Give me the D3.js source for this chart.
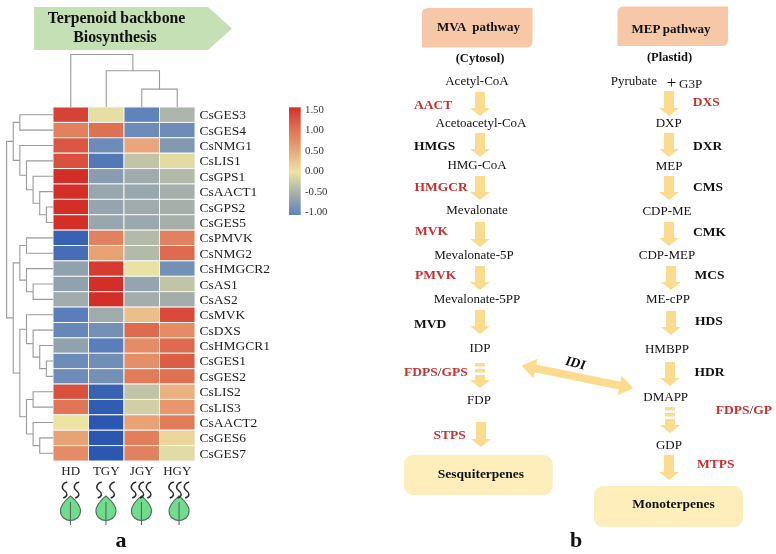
<!DOCTYPE html>
<html><head><meta charset="utf-8">
<script src="https://cdnjs.cloudflare.com/ajax/libs/d3/7.8.5/d3.min.js"></script>
<style>html,body{margin:0;padding:0;background:#fff}svg{display:block;filter:blur(0.4px)}text{font-family:"Liberation Serif",serif}</style>
</head><body><svg id="c" width="776" height="554"></svg>
<script>
const samples=["HD","TGY","JGY","HGY"];
const aroma=[2,2,3,3];
const genes=["CsGES3","CsGES4","CsNMG1","CsLIS1","CsGPS1","CsAACT1","CsGPS2","CsGES5","CsPMVK","CsNMG2","CsHMGCR2","CsAS1","CsAS2","CsMVK","CsDXS","CsHMGCR1","CsGES1","CsGES2","CsLIS2","CsLIS3","CsAACT2","CsGES6","CsGES7"];
const hdValues=[1.35,0.85,1.2,1.25,1.5,1.5,1.5,1.5,-1.3,-1.2,-0.65,-0.65,-0.55,-1.05,-0.95,-0.65,-0.9,-0.9,1.25,0.95,0.02,0.55,0.75];
const tgyValues=[-0.05,1.0,-0.9,-1.1,-0.7,-0.6,-0.62,-0.6,0.85,0.55,1.4,1.5,1.5,-0.55,-0.85,-1.05,-0.88,-0.85,-1.3,-1.35,-1.4,-1.4,-1.4];
const jgyValues=[-1.0,-0.9,0.5,-0.3,-0.55,-0.6,-0.55,-0.58,-0.4,-0.4,-0.02,-0.62,-0.52,0.3,1.05,0.75,0.72,0.9,-0.3,-0.2,0.55,0.88,0.85];
const hgyValues=[-0.45,-0.9,-0.75,-0.08,-0.4,-0.5,-0.5,-0.5,0.85,1.05,-0.85,-0.3,-0.52,1.3,0.75,1.05,1.15,1.0,0.4,0.65,0.9,0.12,-0.08];
const colorDomain=[-1.4,-1,-0.5,0,0.5,1,1.5];
const colorRange=["#2c57b1","#5f83ba","#a6afaa","#ece4a4","#eaa67a","#df7153","#d42e29"];
const legendTicks=[-1,-0.5,0,0.5,1,1.5];
// merge trees: [height, left, right]
const colTree=[1,"HD",[0.69,"TGY",[0.34,"JGY","HGY"]]];
const rowTree=[7,
 [6,[5,"CsGES3","CsGES4"],[5,"CsNMG1",[4,"CsLIS1",[3,"CsGPS1",[2,"CsAACT1",[1,"CsGPS2","CsGES5"]]]]]],
 [6,[5,[4,"CsPMVK","CsNMG2"],[4,"CsHMGCR2",[3,"CsAS1","CsAS2"]]],
    [5,[4,"CsMVK",[3,"CsDXS",[2,"CsHMGCR1",[1,"CsGES1","CsGES2"]]]],
       [4,[3,"CsLIS2","CsLIS3"],[3,"CsAACT2",[2,"CsGES6","CsGES7"]]]]]];
const mvaMetabolites=["Acetyl-CoA","Acetoacetyl-CoA","HMG-CoA","Mevalonate","Mevalonate-5P","Mevalonate-5PP","IDP","FDP"];
const mepMetabolites=["DXP","MEP","CDP-ME","CDP-MEP","ME-cPP","HMBPP","DMAPP","GDP"];
const mvaEnzymes=["AACT","HMGS","HMGCR","MVK","PMVK","MVD","FDPS/GPS","STPS"];
const mepEnzymes=["DXS","DXR","CMS","CMK","MCS","HDS","HDR","FDPS/GP","MTPS"];
const upregulated=new Set(["AACT","HMGCR","MVK","PMVK","FDPS","GPS","GP","STPS","DXS","MTPS"]);

const svg=d3.select("#c");
const RED="#c8302f",ARROW="#fbdc8e",INK="#111";

// ---------- panel a ----------
svg.append("path").attr("d","M34,7H208L232,28.5L208,50H34Z").attr("fill","#c5e0b4");
const title=svg.append("g").attr("font-weight","bold").attr("font-size",15.8).attr("text-anchor","middle").attr("fill",INK);
title.append("text").attr("x",116.5).attr("y",23).text("Terpenoid backbone");
title.append("text").attr("x",115).attr("y",41.5).text("Biosynthesis");

const x=d3.scaleBand().domain(samples).range([53,195]);
const y=d3.scaleBand().domain(genes).range([107,461]);
const color=d3.scaleLinear().domain(colorDomain).range(colorRange).clamp(true);
const matrix=[hdValues,tgyValues,jgyValues,hgyValues];
samples.forEach((s,i)=>{
  svg.append("g").selectAll("rect").data(genes).join("rect")
   .attr("x",x(s)).attr("y",g=>y(g)).attr("width",x.bandwidth()).attr("height",y.bandwidth())
   .attr("fill",(g,j)=>color(matrix[i][j])).attr("stroke","#f4f6f4").attr("stroke-width",1);
});
svg.append("g").selectAll("text").data(genes).join("text")
  .attr("x",199.5).attr("y",g=>y(g)+y.bandwidth()/2+4.5).attr("font-size",13.5).attr("fill","#222").text(g=>g);
svg.append("g").selectAll("text").data(samples).join("text")
  .attr("x",s=>x(s)+x.bandwidth()/2).attr("y",474.5).attr("text-anchor","middle").attr("font-size",13).attr("fill","#222").text(s=>s);

// dendrograms
const colH=d3.scaleLinear().domain([0,1]).range([107,54.5]);
const rowH=d3.scaleLinear().domain([0,7]).range([53,6.6]);
const dendro=svg.append("g").attr("fill","none").attr("stroke","#9a9a9a").attr("stroke-width",1.1);
function walk(n,pos,hs,horizontal,p){
  if(typeof n==="string") return [pos(n),hs(0)];
  const a=walk(n[1],pos,hs,horizontal,p),b=walk(n[2],pos,hs,horizontal,p),h=hs(n[0]);
  if(horizontal){p.moveTo(a[1],a[0]);p.lineTo(h,a[0]);p.lineTo(h,b[0]);p.lineTo(b[1],b[0]);}
  else{p.moveTo(a[0],a[1]);p.lineTo(a[0],h);p.lineTo(b[0],h);p.lineTo(b[0],b[1]);}
  return [(a[0]+b[0])/2,h];
}
const pc=d3.path();walk(colTree,s=>x(s)+x.bandwidth()/2,colH,false,pc);dendro.append("path").attr("d",pc.toString());
const pr=d3.path();walk(rowTree,g=>y(g)+y.bandwidth()/2,rowH,true,pr);dendro.append("path").attr("d",pr.toString());

// colour legend
const lg=svg.append("defs").append("linearGradient").attr("id","lg").attr("x1",0).attr("y1",1).attr("x2",0).attr("y2",0);
d3.range(0,1.001,0.1).forEach(t=>lg.append("stop").attr("offset",t).attr("stop-color",color(-1+2.5*t)));
svg.append("rect").attr("x",289).attr("y",107.3).attr("width",11.7).attr("height",107.7).attr("fill","url(#lg)");
const tickY=d3.scaleLinear().domain([-1,1.5]).range([211.5,109]);
svg.append("g").attr("transform","translate(301,0)")
  .call(d3.axisRight(tickY).tickValues(legendTicks).tickFormat(v=>d3.format(".2f")(v).replace("\u2212","-")).tickSize(0).tickPadding(4))
  .call(g=>g.select(".domain").remove())
  .call(g=>g.selectAll("text").attr("font-family","Liberation Serif").attr("font-size",10.8).attr("fill","#333"));

// aroma + leaf icons
const icons=svg.append("g");
const iconNudge=[-0.3,-0.3,-0.3,1.8];
const smokeOffsets={2:[[-5.7,6.3],[-6.7,6.3]],3:[[-7.7,0,7.3],[-7.7,0,7.7]]};
samples.forEach((s,i)=>{
  const cx=x(s)+x.bandwidth()/2+iconNudge[i];
  const g=icons.append("g").attr("transform",`translate(${cx},0)`);
  g.append("path").attr("d","M0,496C4,499.5 10,504 10,511C10,517 5,520.5 0,520.5C-5,520.5 -10,517 -10,511C-10,504 -4,499.5 0,496Z")
   .attr("fill","#70dc8e").attr("stroke","#4f6b5a").attr("stroke-width",1.1);
  g.append("line").attr("x1",0).attr("x2",0).attr("y1",502).attr("y2",525).attr("stroke","#55695c").attr("stroke-width",1.1);
  smokeOffsets[aroma[i]][i%2].forEach(o=>g.append("path")
     .attr("d",`M${o+2.5},482C${o-2},483 ${o-4},487 ${o-1},490C${o+3},493 ${o+3.5},496 ${o-1.5},498`)
     .attr("fill","none").attr("stroke","#2b2b2b").attr("stroke-width",1.5));
});
svg.append("text").attr("x",121).attr("y",547).attr("text-anchor","middle").attr("font-size",22).attr("font-weight","bold").attr("fill",INK).text("a");

// ---------- panel b ----------
function headerBox(x0,y0,x1,y1){
  const r=6;
  return `M${x0+r},${y0}H${x1}V${y1-r}Q${x1},${y1} ${x1-r},${y1}H${x0}V${y0+r}Q${x0},${y0} ${x0+r},${y0}Z`;
}
svg.append("path").attr("d",headerBox(422,8,532.5,47.5)).attr("fill","#f6c8a8");
svg.append("path").attr("d",headerBox(617.5,6.5,728,46)).attr("fill","#f6c8a8");
function label(t,xx,yy,size,opts={}){
  return svg.append("text").attr("x",xx).attr("y",yy+size*0.33).attr("font-size",size)
   .attr("text-anchor",opts.anchor||"middle").attr("font-weight",opts.bold?"bold":"normal")
   .attr("fill",opts.fill||INK).text(t);
}
label("MVA  pathway",478.5,27,13,{bold:true}).style("white-space","pre");
label("MEP pathway",671,29,13,{bold:true});
label("(Cytosol)",480,58,12.5,{bold:true});
label("(Plastid)",669.5,57,12.5,{bold:true});

const mvaPos=[[477,81],[481,123],[477,165],[477,210],[474,255],[477,299],[480,348],[479,400]];
const mepPos=[[668.7,123],[669,166],[667,211],[667,254.5],[668,299],[667,349],[665.7,397],[669,444.7]];
mvaMetabolites.forEach((m,i)=>label(m,mvaPos[i][0],mvaPos[i][1],13));
mepMetabolites.forEach((m,i)=>label(m,mepPos[i][0],mepPos[i][1],13));
label("Pyrubate",610.7,80.5,13,{anchor:"start"});
label("+",671.5,82,17,{});
label("G3P",679,83.5,13,{anchor:"start"});

function enzyme(name,xx,yy){
  const t=svg.append("text").attr("x",xx).attr("y",yy+4.5).attr("font-size",13.5).attr("font-weight","bold");
  name.split("/").forEach((part,i)=>{
    if(i>0) t.append("tspan").attr("fill",INK).attr("font-weight","normal").text("/");
    t.append("tspan").attr("fill",upregulated.has(part)?RED:INK).text(part);
  });
}
const mvaEnzPos=[[414,104.5],[414,145],[414.5,186],[415,230],[415,274],[414,323],[404,371],[433.5,434]];
const mepEnzPos=[[692.7,101.5],[693,145],[693,186.5],[693,231],[694.5,274],[695,320],[694.5,371],[715.7,409],[697,463]];
mvaEnzymes.forEach((e,i)=>enzyme(e,mvaEnzPos[i][0],mvaEnzPos[i][1]));
mepEnzymes.forEach((e,i)=>enzyme(e,mepEnzPos[i][0],mepEnzPos[i][1]));

function arrow(cx,y0,y1,dashed){
  const g=svg.append("g").attr("fill",ARROW);
  let top=y0;
  if(dashed){
    g.append("rect").attr("x",cx-5).attr("y",y0).attr("width",10).attr("height",3.5);
    g.append("rect").attr("x",cx-5).attr("y",y0+6).attr("width",10).attr("height",3.5);
    top=y0+12;
  }
  const hl=8;
  g.append("path").attr("d",`M${cx-5},${top}H${cx+5}V${y1-hl}H${cx+10}L${cx},${y1}L${cx-10},${y1-hl}H${cx-5}Z`);
}
[[92,116],[133,157],[176,200],[222,247],[266,290],[310,334]].forEach(a=>arrow(480,a[0],a[1]));
arrow(480,363,388,true);arrow(481,422,447);
[[669,91,116],[669,133,157],[669,176,200],[669,222,246],[671,266,290],[671,311,335],[670,362,386]].forEach(a=>arrow(a[0],a[1],a[2]));
arrow(670,407,433,true);arrow(669,455,480);

// IDI double arrow
svg.append("g").attr("transform","translate(577.5,377) rotate(11.5)")
 .append("path").attr("d","M-57,0L-43,-10V-4H43V-10L57,0L43,10V4H-43V10Z").attr("fill",ARROW);
svg.append("text").attr("transform","translate(574,367) rotate(14) skewX(-8)").attr("text-anchor","middle")
 .attr("font-size",13.5).attr("font-weight","bold").attr("fill",INK).text("IDI");

svg.append("rect").attr("x",404).attr("y",455).attr("width",148.7).attr("height",40).attr("rx",9).attr("fill","#fdeebc");
svg.append("rect").attr("x",594).attr("y",486).attr("width",149).attr("height",41).attr("rx",9).attr("fill","#fdeebc");
label("Sesquiterpenes",481,474,13.5,{bold:true});
label("Monoterpenes",673.5,504,13.5,{bold:true});
svg.append("text").attr("x",576).attr("y",547).attr("text-anchor","middle").attr("font-size",22).attr("font-weight","bold").attr("fill",INK).text("b");
</script></body></html>
